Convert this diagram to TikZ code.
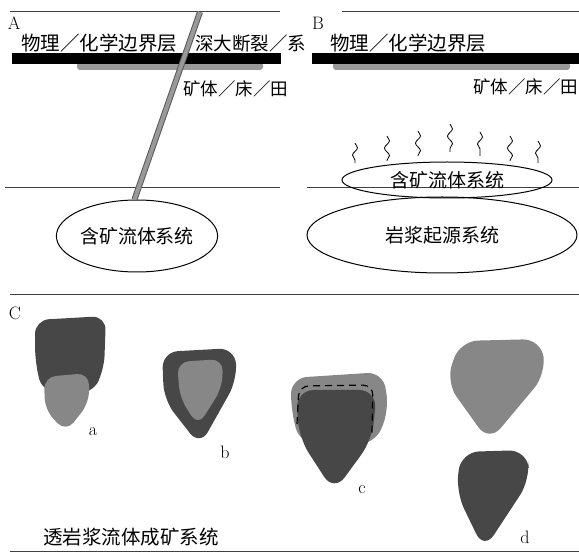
\documentclass[tikz,border=0pt]{standalone}
\usepackage{fontspec}
\newfontfamily\cjk{Noto Sans CJK SC}
\usetikzlibrary{positioning,shapes.geometric,decorations.pathmorphing}

\begin{document}
\begin{tikzpicture}[x=1pt,y=-1pt,
  rule/.style={draw=black!75, line width=1pt},
  head/.style={font=\cjk\fontsize{19.5}{22}\selectfont, inner sep=0pt, anchor=west},
  note/.style={font=\cjk\fontsize{17.5}{20}\selectfont, inner sep=0pt, anchor=west},
  sys/.style={draw, ellipse, line width=1pt, font=\cjk\fontsize{19}{22}\selectfont, inner sep=0pt},
  tag/.style={font=\fontsize{18}{20}\selectfont, inner sep=0pt},
  bar/.style={fill=black},
  shadow/.style={fill=black!40, rounded corners=3pt},
  fault/.style={draw=black!65, double=black!40, double distance=4pt, line width=1pt},
  wavy/.style={draw, line width=0.8pt, decorate, decoration={snake, amplitude=2.5pt, segment length=15pt}},
  ore/.style={fill=black!72, rounded corners=14pt},
  fluid/.style={fill=black!47, rounded corners=14pt}]

\useasboundingbox (0,0) rectangle (579,553);

% Frame lines
\draw[rule] (10,12) -- (280,12);
\draw[rule] (342,12) -- (579,12);
\draw[rule] (5,188) -- (280,188);
\draw[rule] (307,188) -- (579,188);
\draw[rule] (10,295) -- (579,295);
\draw[rule] (10,551) -- (579,551);

% Panel A
\node[tag] (labA) at (14,23) {A};
\node[head] (headA) at (21,43) {物理／化学边界层};
\node[note, font=\cjk\fontsize{18.5}{22}\selectfont] (faultLab) at (195,43) {深大断裂／系};
\fill[shadow] (77,62) rectangle (263,70);
\fill[bar] (12,53) rectangle (281,64);
\node[note] (oreA) at (183,89) {矿体／床／田};
\node[sys, minimum width=146pt, minimum height=72pt] (fluidA) at (137,236) {含矿流体系统};
\coordinate (faultTop) at (200,12);
\draw[fault] (faultTop) -- (fluidA.94);

% Panel B
\node[tag] (labB) at (318,23) {B};
\node[head] (headB) at (330,43) {物理／化学边界层};
\fill[shadow] (333,62) rectangle (570,70);
\fill[bar] (312,53) rectangle (579,64);
\node[note] (oreB) at (473,87) {矿体／床／田};
\node[sys, minimum width=270pt, minimum height=76pt] (magmaB) at (442,235) {岩浆起源系统};
\node[sys, minimum width=210pt, minimum height=36pt] (fluidB) at (447,180) {含矿流体系统};

% Rising fluids
\foreach \x/\top/\bot in {355/143/163, 387/136/161, 418/131/156, 450/124/152, 480/132/156, 510/136/161, 538/141/163} {
  \draw[wavy] (\x,\top) -- (\x,\bot);
}

% Panel C
\node[tag] (labC) at (15,313) {C};

% a
\fill[ore] (35,320) -- (106,316) -- (104,370) -- (92,394) -- (42,392) -- (35,360) -- cycle;
\fill[fluid, rounded corners=12pt] (44,377) -- (89,373) -- (89,403) -- (66,432) -- (45,410) -- cycle;
\node[tag] (tagA) at (93,432) {a};

% b
\fill[ore, rounded corners=16pt] (162,352) -- (235,348) -- (237,380) -- (200,446) -- (164,400) -- cycle;
\fill[fluid, rounded corners=12pt] (177,362) -- (223,359) -- (222,388) -- (198,426) -- (180,398) -- cycle;
\node[tag] (tagB) at (225,452) {b};

% c
\fill[fluid, rounded corners=16pt] (291,378) -- (383,372) -- (389,410) -- (375,444) -- (300,444) -- (291,410) -- cycle;
\fill[ore, rounded corners=18pt] (296,390) -- (377,390) -- (372,440) -- (334,492) -- (299,438) -- cycle;
\draw[dashed, line width=1.2pt, dash pattern=on 7pt off 5pt, rounded corners=10pt]
  (297,424) -- (299,386) -- (373,385) -- (372,433);
\node[tag] (tagC) at (362,490) {c};

% d
\fill[fluid, rounded corners=18pt] (446,382) -- (460,341) -- (541,339) -- (546,374) -- (489,442) -- cycle;
\fill[ore, rounded corners=18pt] (456,492) -- (461,452) -- (527,450) -- (530,480) -- (484,550) -- cycle;
\node[tag] (tagD) at (525,537) {d};

\node[head] (headC) at (43,537) {透岩浆流体成矿系统};

\end{tikzpicture}
\end{document}
